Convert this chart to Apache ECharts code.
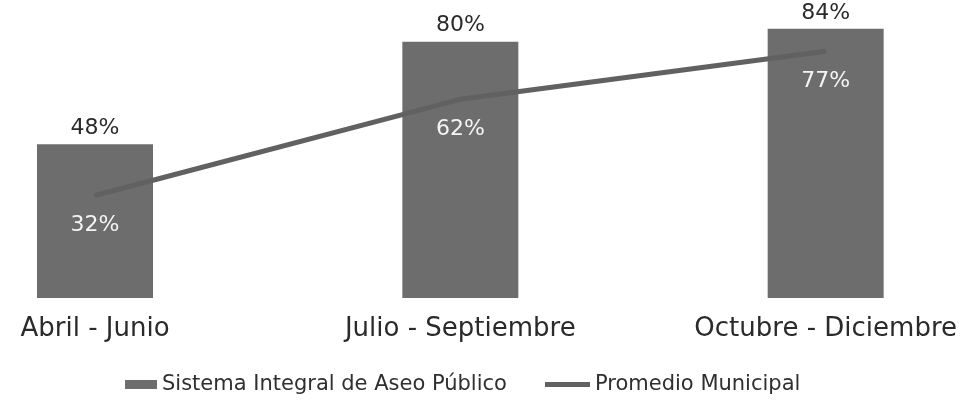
<!DOCTYPE html>
<html><head><meta charset="utf-8">
<script src="https://cdn.jsdelivr.net/npm/echarts@6/dist/echarts.min.js"></script>
<style>html,body{margin:0;padding:0;background:#fff}#c{width:960px;height:408px}</style>
</head><body><div id="c"></div>
<script>
var categories = ['Abril - Junio', 'Julio - Septiembre', 'Octubre - Diciembre'];
var sistemaValues = [48, 80, 84];
var promedioValues = [32, 62, 77];
var seriesNames = ['Sistema Integral de Aseo Público', 'Promedio Municipal'];

var chart = echarts.init(document.getElementById('c'));
var font = 'DejaVu Sans';
var barColor = '#6d6d6d';
var lineColor = '#616161';
chart.setOption({
  animation: false,
  backgroundColor: '#ffffff',
  grid: { left: 95, right: 134, top: 0, bottom: 110, containLabel: false },
  legend: [
    {
      left: 120, top: 369,
      itemWidth: 32, itemHeight: 9,
      textStyle: { fontFamily: font, fontSize: 21, color: '#2f2f2f' },
      data: [{ name: seriesNames[0], icon: 'rect', itemStyle: { color: barColor } }]
    },
    {
      left: 540, top: 369,
      itemWidth: 45, itemHeight: 5,
      textStyle: { fontFamily: font, fontSize: 21, color: '#2f2f2f' },
      data: [{ name: seriesNames[1], icon: 'rect', itemStyle: { color: lineColor } }]
    }
  ],
  xAxis: {
    type: 'category', data: categories, boundaryGap: false,
    axisLine: { show: false }, axisTick: { show: false },
    axisLabel: { fontFamily: font, fontSize: 26, color: '#2a2a2a', margin: 18 }
  },
  yAxis: { type: 'value', min: 0, max: 93, show: false, splitLine: { show: false } },
  series: [
    {
      name: seriesNames[0], type: 'bar', data: sistemaValues, barWidth: 116,
      itemStyle: { color: barColor },
      label: { show: true, position: 'top', distance: 5, formatter: '{c}%',
        fontFamily: font, fontSize: 22, color: '#2a2a2a' }
    },
    {
      name: seriesNames[1], type: 'line', data: promedioValues,
      symbol: 'circle', symbolSize: 2, showSymbol: true,
      lineStyle: { color: lineColor, width: 5 },
      itemStyle: { color: lineColor },
      z: 3,
      label: { show: true, position: 'bottom', distance: 18, formatter: '{c}%',
        fontFamily: font, fontSize: 22, color: '#f4f4f4' }
    }
  ]
});
</script></body></html>
